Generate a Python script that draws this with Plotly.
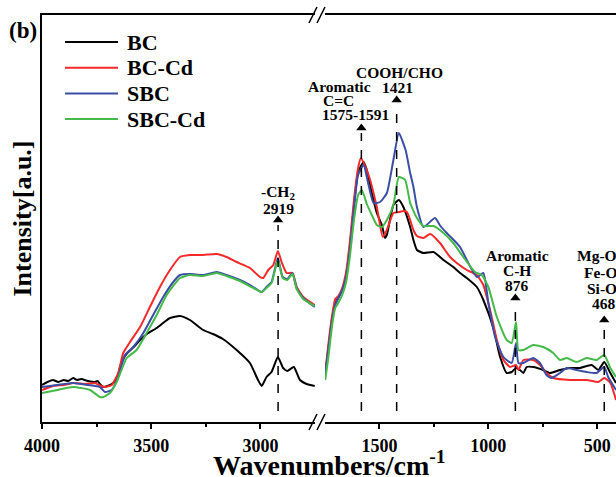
import plotly.graph_objects as go

# FTIR spectra: wavenumber (cm-1) and intensity (a.u.) for each sample.
# Points above 2000 cm-1 belong to the left panel, the rest to the right panel.
BC_WN = [4000, 3975, 3950, 3925, 3900, 3880, 3857, 3840, 3820, 3790, 3757, 3745, 3735, 3720, 3700,
         3674, 3655, 3643, 3620, 3605,
         3580, 3551, 3520, 3475, 3440, 3414, 3368, 3323, 3262, 3217, 3172, 3109, 3048, 3011, 2994,
         2972, 2949, 2920, 2896, 2877, 2847, 2819, 2789, 2751,
         1749, 1735, 1717, 1703, 1689, 1671, 1653, 1635, 1617, 1598, 1573, 1558, 1535, 1512, 1489,
         1474, 1466, 1436, 1411, 1390, 1359, 1344, 1328, 1298, 1252, 1206, 1161, 1130, 1099, 1053,
         1023, 977, 946, 916, 893, 873, 855, 839, 824, 794, 748, 717, 671, 625, 580, 526, 495, 468,
         440, 414]
BC_I = [37, 40, 42, 40, 42, 41, 44, 42, 43, 41, 40, 41, 38, 35, 36,
        39, 44, 55, 66, 70,
        75, 82, 88, 94, 100, 104, 106, 102, 92, 88, 83, 72, 59, 42, 36,
        45, 50, 65, 54, 51, 55, 42, 38, 36,
        47, 72, 104, 119, 124, 132, 147, 177, 217, 250, 260, 252, 229, 209, 197,
        184, 187, 217, 222, 215, 195, 182, 172, 169, 170, 162, 155, 149, 144, 135,
        122, 94, 65, 49, 50, 54, 52, 49, 55, 55, 52, 49, 52, 54, 54, 57, 52, 60,
        49, 39]

BCCD_WN = [4000, 3950, 3900, 3857, 3800, 3757, 3740, 3712, 3681, 3651, 3628, 3597, 3551, 3506, 3460,
           3414, 3368, 3323,
           3262, 3200, 3155, 3109, 3048, 3002, 2987, 2964, 2941, 2920, 2903, 2880, 2853, 2834, 2804,
           2751,
           1749, 1735, 1717, 1703, 1689, 1671, 1653, 1635, 1617, 1598, 1585, 1550, 1512, 1485, 1466,
           1436, 1411, 1390, 1374, 1359, 1344, 1328, 1298, 1267, 1222, 1176, 1145, 1099, 1053, 1023,
           992, 961, 931, 900, 873, 862, 839, 794, 763, 733, 702, 625, 549, 495, 468, 440, 414]
BCCD_I = [32, 36, 37, 39, 38, 39, 37, 35, 37, 49, 69, 80, 95, 115, 135,
          152, 165, 167,
          167, 168, 165, 160, 154, 145, 144, 152, 157, 171, 160, 149, 149, 135, 125,
          117,
          49, 77, 107, 123, 126, 134, 150, 182, 222, 254, 264, 247, 215, 185, 192,
          209, 210, 211, 210, 202, 192, 186, 184, 188, 179, 165, 159, 152, 147, 137,
          112, 82, 62, 55, 57, 52, 62, 62, 57, 49, 44, 42, 42, 40, 44, 39, 22]

SBC_WN = [4000, 3930, 3857, 3790, 3735, 3712, 3681, 3651, 3620, 3582, 3536, 3491, 3445, 3399, 3368,
          3323, 3262,
          3200, 3155, 3094, 3033, 2994, 2972, 2949, 2920, 2898, 2877, 2853, 2834, 2804, 2751,
          1749, 1735, 1717, 1703, 1689, 1671, 1653, 1635, 1617, 1598, 1573, 1550, 1527, 1497, 1466,
          1436, 1411, 1380, 1359, 1344, 1328, 1298, 1245, 1220, 1191, 1168, 1130, 1099, 1053, 1023,
          1000, 969, 931, 893, 873, 862, 839, 794, 763, 733, 710, 671, 640, 595, 549, 503, 468, 450,
          414]
SBC_I = [35, 37, 39, 37, 35, 30, 32, 45, 67, 75, 89, 107, 125, 140, 147,
         148, 147,
         150, 147, 142, 135, 130, 135, 140, 164, 145, 143, 149, 134, 124, 115,
         48, 72, 102, 117, 124, 132, 145, 174, 214, 247, 257, 237, 219, 220, 229,
         262, 289, 272, 249, 235, 215, 195, 204, 196, 189, 184, 175, 162, 145, 149,
         119, 85, 65, 59, 79, 59, 59, 64, 59, 47, 44, 49, 54, 52, 50, 49, 55, 45,
         32]

SBCCD_WN = [4000, 3930, 3857, 3780, 3735, 3720, 3689, 3658, 3612, 3567, 3521, 3475, 3429, 3368, 3323,
            3262,
            3200, 3155, 3094, 3033, 2994, 2972, 2949, 2920, 2898, 2877, 2853, 2834, 2804, 2751,
            1749, 1735, 1717, 1703, 1689, 1671, 1653, 1635, 1617, 1598, 1581, 1558, 1535, 1512, 1489,
            1466, 1436, 1411, 1382, 1359, 1328, 1298, 1252, 1206, 1161, 1115, 1061, 1030, 1000, 961,
            916, 893, 873, 862, 839, 794, 748, 702, 671, 640, 595, 549, 503, 468, 440, 414]
SBCCD_I = [29, 32, 35, 32, 25, 25, 29, 40, 64, 72, 89, 107, 127, 144, 147,
           146,
           149, 146, 141, 134, 130, 134, 139, 162, 144, 142, 148, 133, 123, 116,
           42, 64, 97, 114, 119, 127, 140, 167, 202, 227, 232, 218, 207, 197, 195,
           202, 217, 245, 242, 219, 204, 196, 196, 189, 179, 165, 150, 147, 135, 105,
           82, 79, 100, 72, 72, 77, 75, 69, 62, 64, 60, 64, 62, 67, 54, 45]

SERIES_NAMES = ["BC", "BC-Cd", "SBC", "SBC-Cd"]
SERIES_COLORS = ["#000000", "#f5292a", "#3a4ea6", "#45b94a"]
SERIES_DATA = [(BC_WN, BC_I), (BCCD_WN, BCCD_I), (SBC_WN, SBC_I), (SBCCD_WN, SBCCD_I)]

# Broken wavenumber axis
LEFT_RANGE = [4000, 2750]
RIGHT_RANGE = [1750, 414]
LEFT_TICKS = [4000, 3500, 3000]
RIGHT_TICKS = [1500, 1000, 500]
Y_RANGE = [0, 407]

# Assigned bands: position and top of the dashed guide line
BAND_WN = [2919, 1583, 1421, 876, 468]
BAND_TOP = [197, 289, 317, 119, 97]

FONT = "Liberation Serif"
W, H = 616, 477
ML, MR, MT, MB = 42, 0, 15, 55
PW, PH = W - ML - MR, H - MT - MB


def px(xpix):
    return (xpix - ML) / PW


def py(ypix):
    return (H - MB - ypix) / PH


def axis_of(wn):
    return "x" if wn > 2000 else "x2"


fig = go.Figure()

for name, color, (wn, inten) in zip(SERIES_NAMES, SERIES_COLORS, SERIES_DATA):
    for ax in ("x", "x2"):
        pts = [(w, i) for w, i in zip(wn, inten) if axis_of(w) == ax]
        fig.add_trace(go.Scatter(
            x=[p[0] for p in pts], y=[p[1] for p in pts],
            xaxis=ax, yaxis="y", mode="lines", name=name, showlegend=False,
            line=dict(color=color, width=2, shape="spline", smoothing=0.5),
            hoverinfo="skip"))

# dashed band markers with arrowheads
for wn, top in zip(BAND_WN, BAND_TOP):
    ax = axis_of(wn)
    fig.add_shape(type="line", xref=ax, yref="y", x0=wn, x1=wn, y0=11, y1=top,
                  line=dict(color="black", width=1.5, dash="dash"))
    fig.add_trace(go.Scatter(x=[wn], y=[top + 5], xaxis=ax, yaxis="y", mode="markers",
                             marker=dict(symbol="triangle-up", size=9, color="black"),
                             showlegend=False, hoverinfo="skip"))

BAND_LABELS = [
    ("-CH<sub>2</sub>", 2919, 230, "center"),
    ("2919", 2919, 214, "center"),
    ("COOH/CHO", 1408, 350, "center"),
    ("1421", 1418, 335, "center"),
    ("Aromatic", 1685, 336, "center"),
    ("C=C", 1689, 322, "center"),
    ("1575-1591", 1611, 308, "center"),
    ("Aromatic", 864, 167, "center"),
    ("C-H", 868, 152, "center"),
    ("876", 868, 137, "center"),
    ("Mg-O", 602, 167, "left"),
    ("Fe-O", 570, 150, "left"),
    ("Si-O", 556, 134, "left"),
    ("468", 533, 119, "left"),
]
for text, wn, yv, anchor in BAND_LABELS:
    fig.add_annotation(text=text, x=wn, y=yv, xref=axis_of(wn), yref="y",
                       showarrow=False, xanchor=anchor, yanchor="middle",
                       font=dict(family=FONT, size=15.5, color="black", weight="bold"))

# legend drawn as short line samples with labels
for k, (name, color) in enumerate(zip(SERIES_NAMES, SERIES_COLORS)):
    yrow = 42 + k * 25.7
    fig.add_shape(type="line", xref="paper", yref="paper",
                  x0=px(65), x1=px(118), y0=py(yrow), y1=py(yrow),
                  line=dict(color=color, width=2))
    fig.add_annotation(text=name, xref="paper", yref="paper", x=px(125), y=py(yrow),
                       xanchor="left", yanchor="middle", showarrow=False,
                       font=dict(family=FONT, size=22, color="black", weight="bold"))

# axis-break marks
for ybase in (H - MB, MT):
    for x0 in (309, 317):
        fig.add_shape(type="line", xref="paper", yref="paper",
                      x0=px(x0), x1=px(x0 + 8), y0=py(ybase + 8), y1=py(ybase - 8),
                      line=dict(color="black", width=1.5))

fig.add_annotation(text="(b)", xref="paper", yref="paper", x=px(7), y=py(30),
                   xanchor="left", yanchor="middle", showarrow=False,
                   font=dict(family=FONT, size=23, color="black", weight="bold"))
fig.add_annotation(text="Intensity[a.u.]", xref="paper", yref="paper", x=px(22), y=0.5,
                   textangle=-90, xanchor="center", yanchor="middle", showarrow=False,
                   font=dict(family=FONT, size=26, color="black", weight="bold"))
fig.add_annotation(text="Wavenumbers/cm<sup>-1</sup>", xref="paper", yref="paper",
                   x=px(329), y=py(463), xanchor="center", yanchor="middle", showarrow=False,
                   font=dict(family=FONT, size=28, color="black", weight="bold"))

tick_font = dict(family=FONT, size=18, color="black", weight="bold")
common_x = dict(showline=True, linecolor="black", linewidth=2, mirror=True,
                ticks="outside", ticklen=5, tickwidth=1.5, tickcolor="black",
                ticklabelstandoff=1,
                showgrid=False, zeroline=False, tickfont=tick_font, anchor="y")

fig.update_layout(
    width=W, height=H,
    margin=dict(l=ML, r=MR, t=MT, b=MB),
    paper_bgcolor="white", plot_bgcolor="white",
    showlegend=False,
    xaxis=dict(domain=[0, px(315)], range=LEFT_RANGE, tickvals=LEFT_TICKS,
               minor=dict(tickvals=[3750, 3250], ticklen=3, tickwidth=1.5, tickcolor="black",
                          ticks="outside"),
               **common_x),
    xaxis2=dict(domain=[px(325), 1], range=RIGHT_RANGE, tickvals=RIGHT_TICKS,
                minor=dict(tickvals=[1250, 750], ticklen=3, tickwidth=1.5, tickcolor="black",
                           ticks="outside"),
                **common_x),
    yaxis=dict(range=Y_RANGE, showline=True, linecolor="black", linewidth=2,
               showticklabels=False, ticks="", showgrid=False, zeroline=False),
)

fig.write_html("out.html")
